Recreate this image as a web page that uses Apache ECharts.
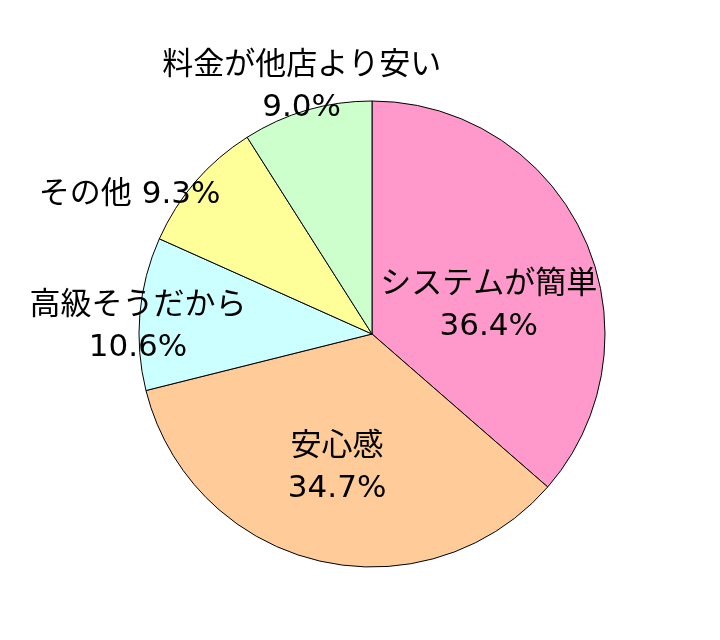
<!DOCTYPE html>
<html>
<head>
<meta charset="utf-8">
<script src="https://cdn.jsdelivr.net/npm/echarts@6/dist/echarts.min.js"></script>
<style>
html,body{margin:0;padding:0;background:#fff;}
#chart{width:720px;height:640px;}
</style>
</head>
<body>
<div id="chart"></div>
<script>
// Data
const categories = ['システムが簡単', '安心感', '高級そうだから', 'その他', '料金が他店より安い'];
const values = [36.4, 34.7, 10.6, 9.3, 9.0];
const labelTexts = ['システムが簡単\n36.4%', '安心感\n34.7%', '高級そうだから\n10.6%', 'その他 9.3%', '料金が他店より安い\n9.0%'];

// Styling / layout
const sliceColors = ['#FF99CC', '#FFCC99', '#CCFFFF', '#FFFF99', '#CCFFCC'];
const labelShiftX = [8, -7, -115, -152, -37];
const labelShiftY = [21, 18, 3, -61, -132];

const chart = echarts.init(document.getElementById('chart'));
chart.setOption({
  animation: false,
  backgroundColor: '#ffffff',
  series: [{
    type: 'pie',
    center: [372, 334],
    radius: 233,
    startAngle: 90,
    clockwise: true,
    avoidLabelOverlap: false,
    itemStyle: { borderColor: '#000', borderWidth: 1 },
    label: {
      position: 'inside',
      color: '#000',
      fontSize: 31,
      fontWeight: 'normal',
      lineHeight: 42,
      fontFamily: '"DejaVu Sans", "Noto Sans CJK JP", sans-serif',
      formatter: p => labelTexts[p.dataIndex]
    },
    labelLine: { show: false },
    emphasis: { disabled: true },
    labelLayout: p => ({ dx: labelShiftX[p.dataIndex], dy: labelShiftY[p.dataIndex] }),
    data: categories.map((c, i) => ({
      name: c,
      value: values[i],
      itemStyle: { color: sliceColors[i] }
    }))
  }]
});
</script>
</body>
</html>
